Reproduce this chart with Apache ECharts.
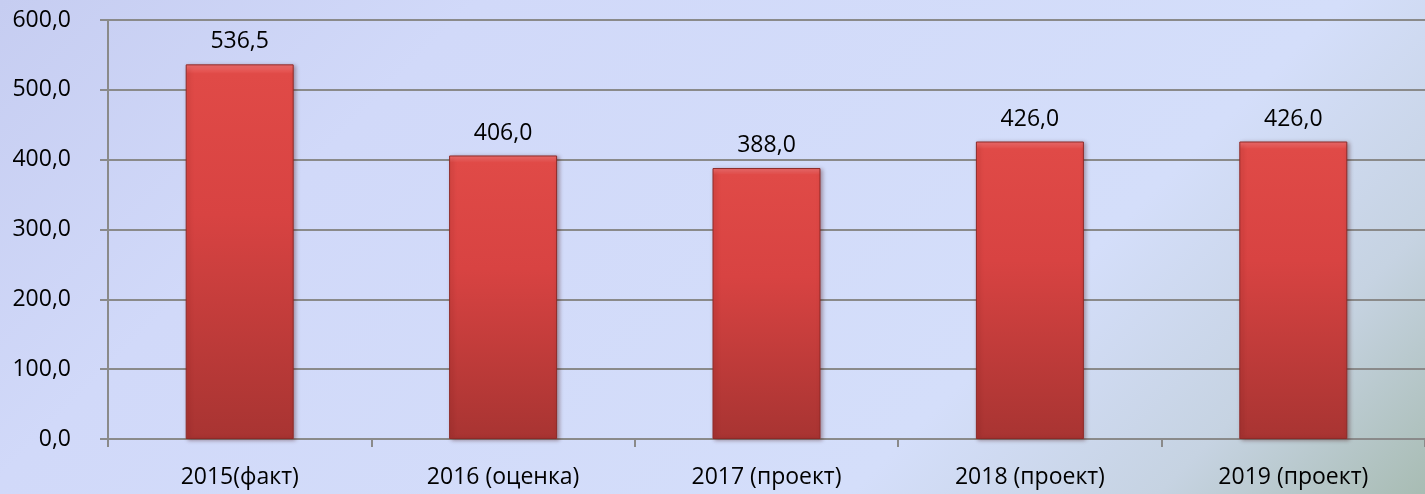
<!DOCTYPE html>
<html>
<head>
<meta charset="utf-8">
<script src="https://cdn.jsdelivr.net/npm/echarts@6/dist/echarts.min.js"></script>
<style>
  html, body { margin: 0; padding: 0; }
  #chart { width: 1425px; height: 494px; }
</style>
</head>
<body>
<div id="chart"></div>
<script>
var categories = ['2015(факт)', '2016 (оценка)', '2017 (проект)', '2018 (проект)', '2019 (проект)'];
var values = [536.5, 406.0, 388.0, 426.0, 426.0];
var yTicks = { min: 0, max: 600, interval: 100 };

function fmt(v) {
    return Number(v).toFixed(1).replace('.', ',');
}

var chart = echarts.init(document.getElementById('chart'));
var option = {
    backgroundColor: {
        type: 'linear', x: 0, y: 0, x2: 960, y2: 960, global: true,
        colorStops: [
            { offset: 0, color: '#c6cdf1' },
            { offset: 0.25, color: '#d1d9f9' },
            { offset: 0.7, color: '#d4defa' },
            { offset: 0.86, color: '#c6d3e2' },
            { offset: 1, color: '#a8bcb3' }
        ]
    },
    textStyle: { fontFamily: 'Open Sans' },
    grid: { left: 108, right: 0, top: 20, bottom: 55 },
    xAxis: {
        type: 'category',
        data: categories,
        axisLine: { lineStyle: { color: '#8a8a8a', width: 2 } },
        axisTick: { show: true, length: 8, lineStyle: { color: '#8a8a8a', width: 2 } },
        axisLabel: { color: '#000', fontSize: 23, margin: 27 }
    },
    yAxis: {
        type: 'value',
        min: yTicks.min, max: yTicks.max, interval: yTicks.interval,
        axisLine: { show: true, lineStyle: { color: '#8a8a8a', width: 2 } },
        axisTick: { show: true, length: 8, lineStyle: { color: '#8a8a8a', width: 2 } },
        splitLine: { lineStyle: { color: '#8a8a8a', width: 2 } },
        axisLabel: { color: '#000', fontSize: 23, margin: 37, formatter: fmt }
    },
    series: [{
        type: 'bar',
        data: values,
        barWidth: '41%',
        itemStyle: {
            color: {
                type: 'linear', x: 0, y: 0, x2: 0, y2: 1,
                colorStops: [
                    { offset: 0, color: '#f47272' },
                    { offset: 0.025, color: '#e04a47' },
                    { offset: 0.4, color: '#d84342' },
                    { offset: 1, color: '#a83432' }
                ]
            },
            borderColor: '#8e2a28',
            borderWidth: 1,
            shadowColor: 'rgba(60,0,0,0.35)',
            shadowBlur: 4,
            shadowOffsetX: 2,
            shadowOffsetY: 1
        },
        label: {
            show: true,
            position: 'top',
            distance: 11,
            color: '#000',
            fontSize: 23,
            formatter: function (p) { return fmt(p.value); }
        }
    }]
};
chart.setOption(option);
</script>
</body>
</html>
